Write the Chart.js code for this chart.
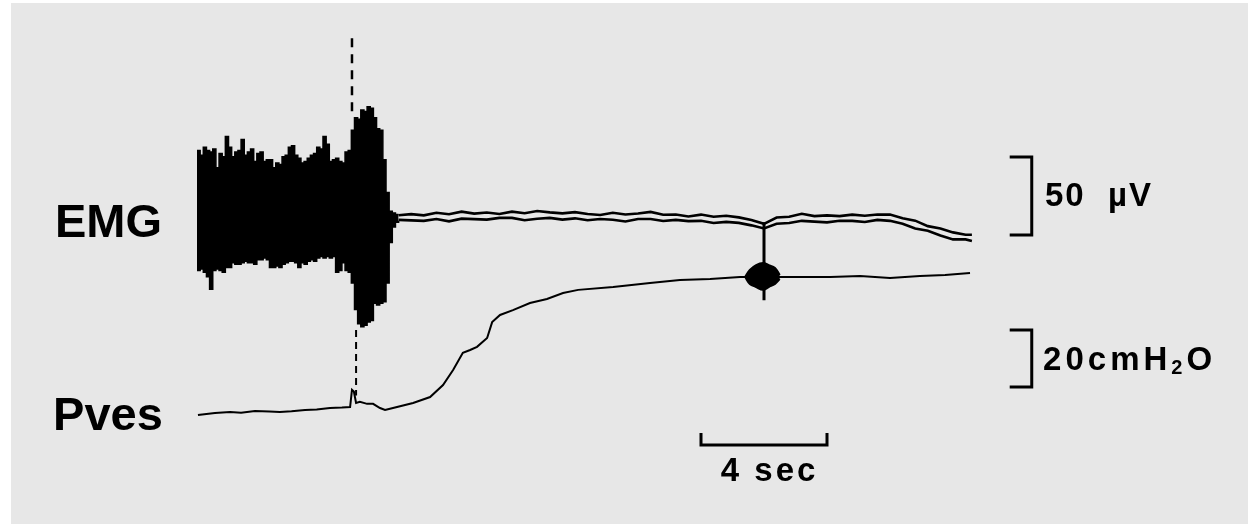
<!DOCTYPE html>
<html>
<head>
<meta charset="utf-8">
<script src="https://cdn.jsdelivr.net/npm/chart.js@4.4.1/dist/chart.umd.min.js"></script>
<style>
html, body { margin: 0; padding: 0; background: #fff; }
#wrap { width: 1248px; height: 524px; position: relative; }
</style>
</head>
<body>
<div id="wrap"><canvas id="c"></canvas></div>
<script>
// time in seconds, EMG in microvolts, bladder pressure (Pves) in cmH2O

// EMG burst envelope (sampled every 0.1 s)
var burstT = [0,0.1,0.2,0.3,0.4,0.5,0.6,0.7,0.8,0.9,1,1.1,1.2,1.3,1.4,1.5,1.6,1.7,1.8,1.9,
    2,2.1,2.2,2.3,2.4,2.5,2.6,2.7,2.8,2.9,3,3.1,3.2,3.3,3.4,3.5,3.6,3.7,3.8,3.9,
    4,4.1,4.2,4.3,4.4,4.5,4.6,4.7,4.8,4.9,5,5.1,5.2,5.3,5.4,5.5,5.6,5.7,5.8,5.9,
    6,6.1,6.2,6.3,6.4];
var burstTop = [42,39,44,42,41,43,31,40,38,51,44,38,41,42,49,39,41,43,35,40,
    41,35,36,36,31,34,33,38,39,44,45,39,37,34,35,37,39,40,44,43,
    51,46,35,36,37,35,34,41,42,55,63,62,68,67,70,69,63,56,55,36,
    15,3,2,1,1];
var burstBottom = [-35,-34,-36,-39,-47,-35,-34,-35,-36,-33,-33,-30,-31,-31,-30,-29,-30,-30,-31,-28,
    -28,-27,-28,-33,-33,-32,-33,-31,-30,-29,-29,-30,-33,-30,-31,-29,-28,-29,-27,-26,
    -27,-26,-27,-26,-36,-35,-30,-35,-36,-43,-60,-69,-71,-70,-68,-67,-56,-57,-56,-55,
    -43,-17,-7,-4,-3];

// EMG after the burst: the two edges of the pen trace
var emgT = [6.4,6.8,7.2,7.6,8,8.4,8.8,9.2,9.6,10,10.4,10.8,11.2,11.6,12,12.4,12.8,13.2,13.6,14,
    14.4,14.8,15.2,15.6,16,16.4,16.8,17.2,17.6,18,18.4,18.8,19.2,19.6,20,20.4,20.8,21.2,21.6,22,
    22.4,22.8,23.2,23.6,24,24.4,24.6];
var emgUpper = [0.5,1.2,0.4,2.1,1.1,2.8,1.5,2.2,1.3,2.8,1.8,3.2,2.3,1.7,2.5,1.3,0.6,2.1,1,1.6,
    2.6,0.8,1,-0.3,0.9,-0.5,0.2,-0.9,-2.5,-5,-1,-0.5,1.4,-0.1,0.4,-0.1,0.9,0.2,1,0.9,
    -1.5,-3,-6.5,-8,-10.5,-12,-12];
var emgLower = [-2.5,-2.8,-3.1,-1.9,-3.4,-1.7,-2,-2.3,-1.2,-1.2,-2.7,-1.8,-1.2,-2.3,-1.5,-2.7,-1.9,-2.4,-3.5,-1.9,
    -1.9,-3.2,-2.5,-3.3,-3.1,-4.5,-3.8,-4.4,-6,-8,-5,-4.5,-3.1,-3.6,-4.1,-3.1,-3.1,-3.8,-2.5,-3.1,
    -5,-8,-9.5,-12.5,-15,-15,-16];

// artefact strokes on the EMG channel
var spikeUpT = [4.92, 4.92];
var spikeUpV = [114, 65];
var spikeDownT = [5.05, 5.05];
var spikeDownV = [-73, -115];
var artifactT = [18, 18];
var artifactV = [-4, -54];

// bladder pressure
var pvesT = [0.03,0.57,1.05,1.4,1.84,2.3,2.63,3,3.43,3.8,4.22,4.6,4.86,4.92,4.98,5.05,5.17,5.4,5.59,5.81,
    5.97,6.35,6.86,7.4,7.81,8.13,8.44,8.67,8.89,9.21,9.37,9.62,10.03,10.57,11.11,11.62,12.1,13.21,14.38,15.33,
    16.29,17.24,18.83,20.1,21.05,22,22.95,23.75,24.54];
var pvesVal = [-0.7,0,0.35,0.1,0.7,0.5,0.35,0.6,1.05,1.2,1.75,1.9,2.1,8.1,7.5,3.5,3.9,3.2,3.2,1.75,
    1.05,2.1,3.5,5.6,9.8,15.1,21.1,22.1,23.2,26.3,31.9,34.4,36.1,38.6,40,42.1,43.2,44.2,45.6,46.7,
    47,47.7,47.7,47.7,48.1,47.4,48.1,48.4,49.1];
var blobT = [17.4,17.55,17.75,17.97,18.15,18.35,18.5];
var blobTop = [47.7,50.2,51.9,52.6,51.9,50.9,48.4];
var blobBottom = [47.7,45.3,44.2,43.2,44.2,45.3,47];

// calibration bars
var timeBarT = [16, 16, 20, 20];
var timeBarV = [-7, -11.2, -11.2, -7];
var emgBarT = [25.8, 26.5, 26.5, 25.8];
var emgBarV = [37.8, 37.8, -12.2, -12.2];
var pvesBarT = [25.8, 26.5, 26.5, 25.8];
var pvesBarV = [29.1, 29.1, 9.1, 9.1];

var textLabels = [
    { parts: ['EMG'], t: -4.51, v: -13.5, axis: 'yE', size: 47, spacing: 0 },
    { parts: ['Pves'], t: -4.57, v: -6, axis: 'yP', size: 47, spacing: 0 },
    { parts: ['50  \u00b5V'], t: 26.92, v: 6.4, axis: 'yE', size: 33, spacing: 2 },
    { parts: ['20cmH', '_2', 'O'], t: 26.86, v: 15.1, axis: 'yP', size: 33, spacing: 4 },
    { parts: ['4 sec'], t: 16.63, v: -23.9, axis: 'yP', size: 33, spacing: 3 }
];

function pts(xs, ys){
    var out = [];
    for( var i = 0; i < xs.length; i++ ){
        out.push({ x: xs[i], y: ys[i] });
    }
    return out;
}

function trace(xs, ys, axis, extra){
    var d = {
        data: pts(xs, ys),
        yAxisID: axis,
        borderColor: '#000',
        backgroundColor: '#000',
        borderWidth: 2,
        pointRadius: 0,
        fill: false,
        tension: 0
    };
    for( var k in extra ){
        d[k] = extra[k];
    }
    return d;
}

var paperPlugin = {
    id: 'paper',
    beforeDraw: function(chart){
        var ctx = chart.ctx;
        ctx.save();
        ctx.fillStyle = '#ffffff';
        ctx.fillRect(0, 0, chart.width, chart.height);
        ctx.fillStyle = '#e7e7e7';
        ctx.fillRect(11, 3, chart.width - 11, chart.height - 3);
        ctx.restore();
    },
    afterDatasetsDraw: function(chart){
        var ctx = chart.ctx;
        ctx.save();
        ctx.fillStyle = '#000';
        ctx.textBaseline = 'alphabetic';
        ctx.textAlign = 'left';
        textLabels.forEach(function(l){
            var x = chart.scales.x.getPixelForValue(l.t);
            var y = chart.scales[l.axis].getPixelForValue(l.v);
            ctx.letterSpacing = l.spacing + 'px';
            l.parts.forEach(function(p){
                var sub = p.charAt(0) === '_';
                var s = sub ? p.slice(1) : p;
                var size = sub ? Math.round(l.size * 0.62) : l.size;
                ctx.font = 'bold ' + size + 'px "Liberation Sans", Arial, sans-serif';
                ctx.fillText(s, x, sub ? y + 4 : y);
                x += ctx.measureText(s).width;
            });
        });
        ctx.restore();
    }
};

var datasets = [
    trace(burstT, burstTop, 'yE', { stepped: true, fill: '+1', borderWidth: 1.5 }),
    trace(burstT, burstBottom, 'yE', { stepped: true, borderWidth: 1.5 }),
    trace(emgT, emgUpper, 'yE', { borderWidth: 2.6 }),
    trace(emgT, emgLower, 'yE', { borderWidth: 2.6 }),
    trace(spikeUpT, spikeUpV, 'yE', { borderWidth: 2.5, borderDash: [9, 7] }),
    trace(spikeDownT, spikeDownV, 'yE', { borderWidth: 2, borderDash: [7, 5] }),
    trace(artifactT, artifactV, 'yE', { borderWidth: 3 }),
    trace(pvesT, pvesVal, 'yP', { borderWidth: 2 }),
    trace(blobT, blobTop, 'yP', { fill: '+1', borderWidth: 2, tension: 0.4 }),
    trace(blobT, blobBottom, 'yP', { borderWidth: 2, tension: 0.4 }),
    trace(timeBarT, timeBarV, 'yP', { borderWidth: 3 }),
    trace(emgBarT, emgBarV, 'yE', { borderWidth: 3 }),
    trace(pvesBarT, pvesBarV, 'yP', { borderWidth: 3 })
];

new Chart(document.getElementById('c'), {
    type: 'line',
    data: { datasets: datasets },
    options: {
        responsive: true,
        maintainAspectRatio: false,
        animation: false,
        layout: { padding: 0 },
        plugins: {
            legend: { display: false },
            tooltip: { enabled: false }
        },
        scales: {
            x: { type: 'linear', display: false, min: -6.254, max: 33.365 },
            yE: { type: 'linear', display: false, min: -197.44, max: 138.46 },
            yP: { type: 'linear', display: false, min: -38.95, max: 144.91 }
        }
    },
    plugins: [paperPlugin]
});
</script>
</body>
</html>
